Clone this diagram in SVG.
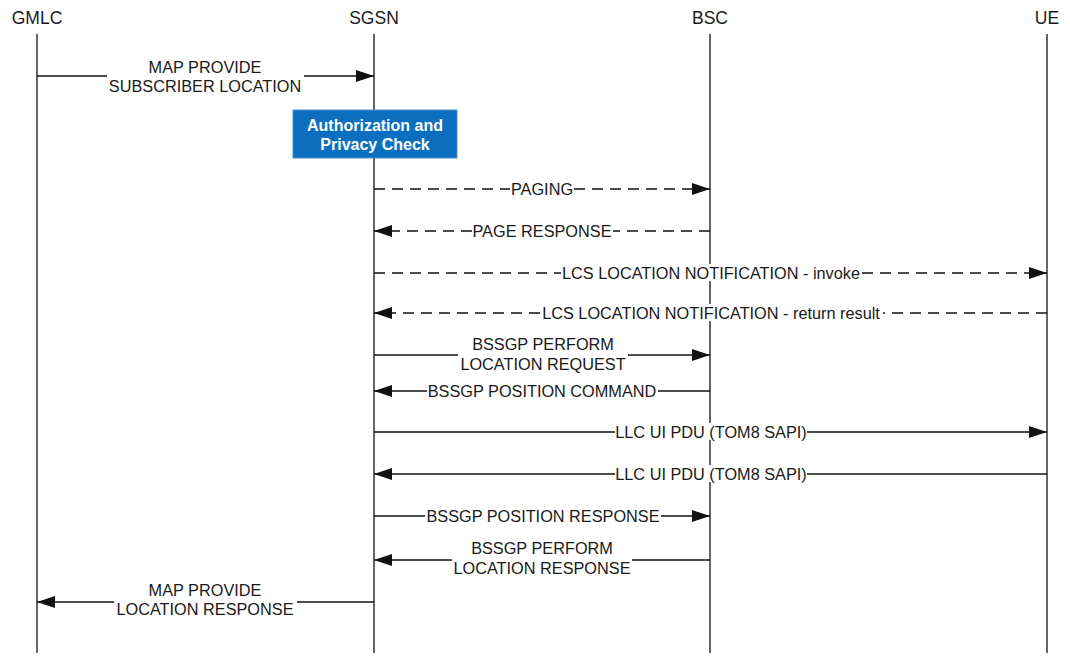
<svg xmlns="http://www.w3.org/2000/svg" width="1070" height="656" viewBox="0 0 1070 656">
<style>
.hdr{font-family:"Liberation Sans",Arial,sans-serif;font-size:17.5px;fill:#1a1a1a;text-anchor:middle}
.lbl{font-family:"Liberation Sans",Arial,sans-serif;font-size:16.3px;fill:#1a1a1a;text-anchor:middle}
.life{stroke:#111;stroke-width:1.3;fill:none}
.msg{stroke:#111;stroke-width:1.3;fill:none}
.dash{stroke-dasharray:11 7}
.bg{fill:#fff}
.boxt{font-family:"Liberation Sans",Arial,sans-serif;font-size:16px;font-weight:bold;fill:#fff;text-anchor:middle}
</style>
<defs>
<marker id="ah" markerUnits="userSpaceOnUse" markerWidth="18" markerHeight="14" refX="18" refY="6" orient="auto">
<path d="M0,0 L18,6 L0,12 z" fill="#111"/>
</marker>
</defs>
<rect width="1070" height="656" fill="#fff"/>
<g id="GMLC"><text class="hdr" x="37" y="24">GMLC</text><line class="life" x1="37" y1="34" x2="37" y2="653"/></g>
<g id="SGSN"><text class="hdr" x="374" y="24">SGSN</text><line class="life" x1="374" y1="34" x2="374" y2="653"/></g>
<g id="BSC"><text class="hdr" x="710" y="24">BSC</text><line class="life" x1="710" y1="34" x2="710" y2="653"/></g>
<g id="UE"><text class="hdr" x="1047" y="24">UE</text><line class="life" x1="1047" y1="34" x2="1047" y2="653"/></g>
<g id="auth_check">
<rect x="293" y="110" width="164" height="48" fill="#0b6fbf" stroke="#4a90d0" stroke-width="1"/>
<text class="boxt" x="375" y="131">Authorization and</text>
<text class="boxt" x="375" y="150">Privacy Check</text>
</g>
<g id="connectors">
<g id="m1"><path class="msg" d="M37,76 H107"/><path class="msg" d="M304,76 H374" marker-end="url(#ah)"/>
<text class="lbl" x="205" y="73">MAP PROVIDE</text><text class="lbl" x="205" y="92">SUBSCRIBER LOCATION</text></g>
<g id="m2"><path class="msg dash" d="M374,189 H510"/><path class="msg dash" d="M574,189 H710" marker-end="url(#ah)"/>
<text class="lbl" x="542" y="195">PAGING</text></g>
<g id="m3"><path class="msg dash" d="M710,231 H613"/><path class="msg dash" d="M472,231 H374" marker-end="url(#ah)"/>
<text class="lbl" x="542" y="237">PAGE RESPONSE</text></g>
<g id="m4"><path class="msg dash" d="M374,273 H561"/><path class="msg dash" d="M862,273 H1047" marker-end="url(#ah)"/>
<rect class="bg" x="704" y="264" width="12" height="17"/>
<text class="lbl" x="711" y="279">LCS LOCATION NOTIFICATION - invoke</text></g>
<g id="m5"><path class="msg dash" d="M1047,313 H883"/><path class="msg dash" d="M540,313 H374" marker-end="url(#ah)"/>
<rect class="bg" x="704" y="304" width="12" height="17"/>
<text class="lbl" x="711" y="319">LCS LOCATION NOTIFICATION - return result</text></g>
<g id="m6"><path class="msg" d="M374,355 H458"/><path class="msg" d="M628,355 H710" marker-end="url(#ah)"/>
<text class="lbl" x="543" y="350">BSSGP PERFORM</text><text class="lbl" x="543" y="370">LOCATION REQUEST</text></g>
<g id="m7"><path class="msg" d="M710,391 H658"/><path class="msg" d="M427,391 H374" marker-end="url(#ah)"/>
<text class="lbl" x="542" y="397">BSSGP POSITION COMMAND</text></g>
<g id="m8"><path class="msg" d="M374,432 H615"/><path class="msg" d="M807,432 H1047" marker-end="url(#ah)"/>
<rect class="bg" x="704" y="423" width="12" height="17"/>
<text class="lbl" x="711" y="438">LLC UI PDU (TOM8 SAPI)</text></g>
<g id="m9"><path class="msg" d="M1047,474 H807"/><path class="msg" d="M615,474 H374" marker-end="url(#ah)"/>
<rect class="bg" x="704" y="465" width="12" height="17"/>
<text class="lbl" x="711" y="480">LLC UI PDU (TOM8 SAPI)</text></g>
<g id="m10"><path class="msg" d="M374,516 H425"/><path class="msg" d="M661,516 H710" marker-end="url(#ah)"/>
<text class="lbl" x="543" y="522">BSSGP POSITION RESPONSE</text></g>
<g id="m11"><path class="msg" d="M710,560 H632"/><path class="msg" d="M452,560 H374" marker-end="url(#ah)"/>
<text class="lbl" x="542" y="554">BSSGP PERFORM</text><text class="lbl" x="542" y="574">LOCATION RESPONSE</text></g>
<g id="m12"><path class="msg" d="M374,602 H297"/><path class="msg" d="M114,602 H37" marker-end="url(#ah)"/>
<text class="lbl" x="205" y="596">MAP PROVIDE</text><text class="lbl" x="205" y="615">LOCATION RESPONSE</text></g>
</g>
</svg>
